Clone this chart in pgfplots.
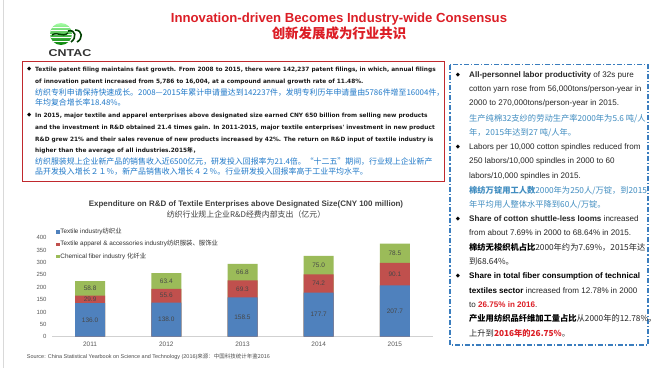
\documentclass[border=0pt]{standalone}
\usepackage{graphicx}
\usepackage{pgfplots}
\pgfplotsset{compat=1.18}
\usepackage{pgfplotstable}
\usepackage{fontspec}
\setmainfont{Liberation Sans}
\newfontfamily\cjk{Noto Sans CJK SC}
\newfontfamily\sym{DejaVu Sans}
\newfontfamily\dvs{DejaVu Sans}
\definecolor{cblue}{HTML}{4F81BD}
\definecolor{cred}{HTML}{C0504D}
\definecolor{cgreen}{HTML}{9BBB59}
\definecolor{titlered}{HTML}{DC1E26}
\definecolor{boxred}{HTML}{C0282D}
\definecolor{zhblue}{HTML}{1F78C8}
\definecolor{zhteal}{HTML}{3F8CC0}
\definecolor{panelblue}{HTML}{3A7DBE}
\definecolor{axgray}{HTML}{595959}
\newcommand{\fsz}[1]{\fontsize{#1}{#1}\selectfont}
\newcommand{\tline}[3]{\node[anchor=mid west, inner sep=0pt] at (#1bp,-#2bp) {#3};}
\newcommand{\bul}[2]{\node[inner sep=0pt, font=\sym\fsz{5.5}, text=black] at (#1bp,-#2bp) {◆};}

\pgfplotstableread{
x t a c
0 136.0 29.9 58.8
1 138.0 55.6 63.4
2 158.5 69.3 66.8
3 177.7 74.2 75.0
4 207.7 90.1 78.5
}\rd

\begin{document}
\begin{tikzpicture}
\useasboundingbox (0,0) rectangle (660bp,-368bp);
\fill[white] (0,0) rectangle (660bp,-368bp);
\draw[black!15, line width=1bp] (3.5bp,0) -- (3.5bp,-368bp);

% logo
\begin{scope}
\clip (61bp,-34bp) circle (11bp);
\shade[top color=green!35!white, bottom color=green!50!black] (50bp,-23bp) rectangle (72bp,-45bp);
\foreach \yy in {27,30.5,34,37.5,41} {\draw[white, line width=0.7bp] (49bp,-\yy bp) -- (73bp,-\yy bp);}
\end{scope}
\draw[green!25!black, line width=1.4bp] (52bp,-35bp) .. controls (58bp,-31bp) and (62bp,-38bp) .. (68bp,-33bp);
\draw[green!25!black, line width=1.6bp] (68bp,-31bp) .. controls (76bp,-29bp) and (77bp,-38bp) .. (71bp,-42bp);
\draw[green!25!black, line width=1.6bp] (75bp,-30bp) .. controls (83bp,-30bp) and (83bp,-39bp) .. (77bp,-42bp);
\node[font=\bfseries\fsz{10}, text=black!80] at (70bp,-52.7bp) {\scalebox{1.25}[1]{CNTAC}};

% titles
\node[font=\bfseries\fsz{13.2}, text=titlered] at (339bp,-19.3bp) {Innovation-driven Becomes Industry-wide Consensus};
\node[font=\cjk\bfseries\fsz{13.5}, text=titlered] at (339bp,-33.3bp) {创新发展成为行业共识};

% left box
\draw[boxred, line width=1bp] (22.7bp,-61.7bp) rectangle (444bp,-181bp);
\bul{29.3}{69.3}
\bul{29.3}{115}
\begin{scope}[font=\dvs\bfseries\fsz{5.85}, text=black!90]
\tline{35}{69.3}{Textile patent filing maintains fast growth. From 2008 to 2015, there were 142,237 patent filings, in which, annual filings}
\tline{35}{80.7}{of innovation patent increased from 5,786 to 16,004, at a compound annual growth rate of 11.48\%.}
\tline{35}{115}{In 2015, major textile and apparel enterprises above designated size earned CNY 650 billion from selling new products}
\tline{35}{126.7}{and the investment in R\&D obtained 21.4 times gain. In 2011-2015, major textile enterprises' investment in new product}
\tline{35}{139}{R\&D grew 21\% and their sales revenue of new products increased by 42\%. The return on R\&D input of textile industry is}
\tline{35}{150}{higher than the average of all industries.2015{\cjk 年，}}
\end{scope}
\begin{scope}[font=\cjk\fsz{7.95}, text=zhblue]
\tline{35}{93.3}{纺织专利申请保持快速成长。2008—2015年累计申请量达到142237件，发明专利历年申请量由5786件增至16004件，}
\tline{35}{103.3}{年均复合增长率18.48\%。}
\tline{35}{161.7}{纺织服装规上企业新产品的销售收入近6500亿元，研发投入回报率为21.4倍。“十二五”期间，行业规上企业新产}
\tline{35}{172.3}{品开发投入增长２１％，新产品销售收入增长４２％。行业研发投入回报率高于工业平均水平。}
\end{scope}

% right panel
\draw[panelblue, line width=1.1bp, dash pattern=on 5bp off 2bp on 1.2bp off 2bp] (450bp,-64.5bp) rectangle (648bp,-345bp);
\bul{458}{75}
\bul{458}{147.3}
\bul{458}{219}
\bul{458}{276}
\begin{scope}[font=\fsz{8.1}, text=black!85]
\tline{469}{75}{{\bfseries All-personnel labor productivity} of 32s pure}
\tline{469}{89}{cotton yarn rose from 56,000tons/person-year in}
\tline{469}{103.3}{2000 to 270,000tons/person-year in 2015.}
\tline{469}{118.7}{\cjk\fsz{8.3}\color{zhteal}生产纯棉32支纱的劳动生产率2000年为5.6 吨/人}
\tline{469}{132.7}{\cjk\fsz{8.3}\color{zhteal}年，2015年达到27 吨/人年。}
\tline{469}{147.3}{Labors per 10,000 cotton spindles reduced from}
\tline{469}{161.3}{250 labors/10,000 spindles in 2000 to 60}
\tline{469}{175.7}{labors/10,000 spindles in 2015.}
\tline{469}{190.7}{\cjk\fsz{8.3}\color{zhteal}{\bfseries 棉纺万锭用工人数}2000年为250人/万锭，到2015}
\tline{469}{204.7}{\cjk\fsz{8.3}\color{zhteal}年平均用人整体水平降到60人/万锭。}
\tline{469}{219}{{\bfseries Share of cotton shuttle-less looms} increased}
\tline{469}{233.3}{from about 7.69\% in 2000 to 68.64\% in 2015.}
\tline{469}{248}{\cjk\fsz{8.3}{\bfseries\color{black} 棉纺无梭织机占比}2000年约为7.69\%，2015年达}
\tline{469}{262}{\cjk\fsz{8.3}到68.64\%。}
\tline{469}{276}{{\bfseries\color{black} Share in total fiber consumption of technical}}
\tline{469}{290.7}{{\bfseries\color{black} textiles sector} increased from 12.78\% in 2000}
\tline{469}{305}{to {\bfseries\color{titlered} 26.75\% in 2016}.}
\tline{469}{319.3}{\cjk\fsz{8.3}{\bfseries\color{black} 产业用纺织品纤维加工量占比}从2000年的12.78\%，}
\tline{469}{334.3}{\cjk\fsz{8.3}上升到{\bfseries\color{titlered}2016年的26.75\%}。}
\end{scope}

% chart titles
\node[font=\bfseries\fsz{8}, text=black!75] at (246bp,-204bp) {Expenditure on R\&D of Textile Enterprises above Designated Size(CNY 100 million)};
\node[font=\cjk\fsz{7.95}, text=black!75] at (246bp,-214.3bp) {纺织行业规上企业R\&D经费内部支出（亿元）};
\node[anchor=mid west, inner sep=0pt, font=\fsz{5.5}, text=black!70] at (26.7bp,-355.7bp) {Source: China Statistical Yearbook on Science and Technology (2016){\cjk 来源：中国科技统计年鉴2016}};

\begin{axis}[
  at={(52bp,-336.7bp)}, anchor=south west,
  scale only axis, width=381bp, height=99bp,
  xmin=-0.5, xmax=4.5, ymin=0, ymax=400,
  xtick={0,1,2,3,4}, xticklabels={2011,2012,2013,2014,2015},
  ytick={0,50,...,400},
  axis x line*=bottom, axis y line*=left,
  y axis line style={draw=none},
  x axis line style={draw=black!18, line width=0.8bp},
  major tick length=0pt,
  xticklabel style={font=\fsz{6.5}, text=axgray, yshift=-1.5bp},
  yticklabel style={font=\fsz{6}, text=axgray, xshift=-2bp},
  /pgf/number format/assume math mode=true,
  clip=false,
  legend cell align=left,
  reverse legend,
  legend style={at={(0.0105,1.0995)}, anchor=north west, draw=none, fill=none,
    font=\fsz{6.4}, text=black!80, row sep=4.6bp, inner sep=0pt,
    nodes={inner sep=0.8bp, text height=4.8bp, text depth=1.3bp}},
  legend image code/.code={\fill[#1] (0bp,-1.7bp) rectangle (3.4bp,1.7bp);},
]
\addplot[ybar, bar width=30bp, bar shift=0pt, fill=cgreen, draw=none] table[x=x, y expr=\thisrow{t}+\thisrow{a}+\thisrow{c}] {\rd};
\addlegendentry{Chemical fiber industry {\cjk 化纤业}}
\addplot[ybar, bar width=30bp, bar shift=0pt, fill=cred, draw=none] table[x=x, y expr=\thisrow{t}+\thisrow{a}] {\rd};
\addlegendentry{Textile apparel \& accessories industry{\cjk 纺织服装、服饰业}}
\addplot[ybar, bar width=30bp, bar shift=0pt, fill=cblue, draw=none] table[x=x, y=t] {\rd};
\addlegendentry{Textile industry{\cjk 纺织业}}

\addplot[draw=none, mark=none, forget plot, point meta=explicit,
  nodes near coords={\pgfmathprintnumber[fixed,fixed zerofill,precision=1]{\pgfplotspointmeta}},
  nodes near coords style={anchor=center, font=\fsz{6.5}, text=black!72}]
  table[x=x, y expr=\thisrow{t}/2, meta=t] {\rd};
\addplot[draw=none, mark=none, forget plot, point meta=explicit,
  nodes near coords={\pgfmathprintnumber[fixed,fixed zerofill,precision=1]{\pgfplotspointmeta}},
  nodes near coords style={anchor=center, font=\fsz{6.5}, text=black!72}]
  table[x=x, y expr=\thisrow{t}+\thisrow{a}/2, meta=a] {\rd};
\addplot[draw=none, mark=none, forget plot, point meta=explicit,
  nodes near coords={\pgfmathprintnumber[fixed,fixed zerofill,precision=1]{\pgfplotspointmeta}},
  nodes near coords style={anchor=center, font=\fsz{6.5}, text=black!72}]
  table[x=x, y expr=\thisrow{t}+\thisrow{a}+\thisrow{c}/2, meta=c] {\rd};
\end{axis}
\end{tikzpicture}
\end{document}
